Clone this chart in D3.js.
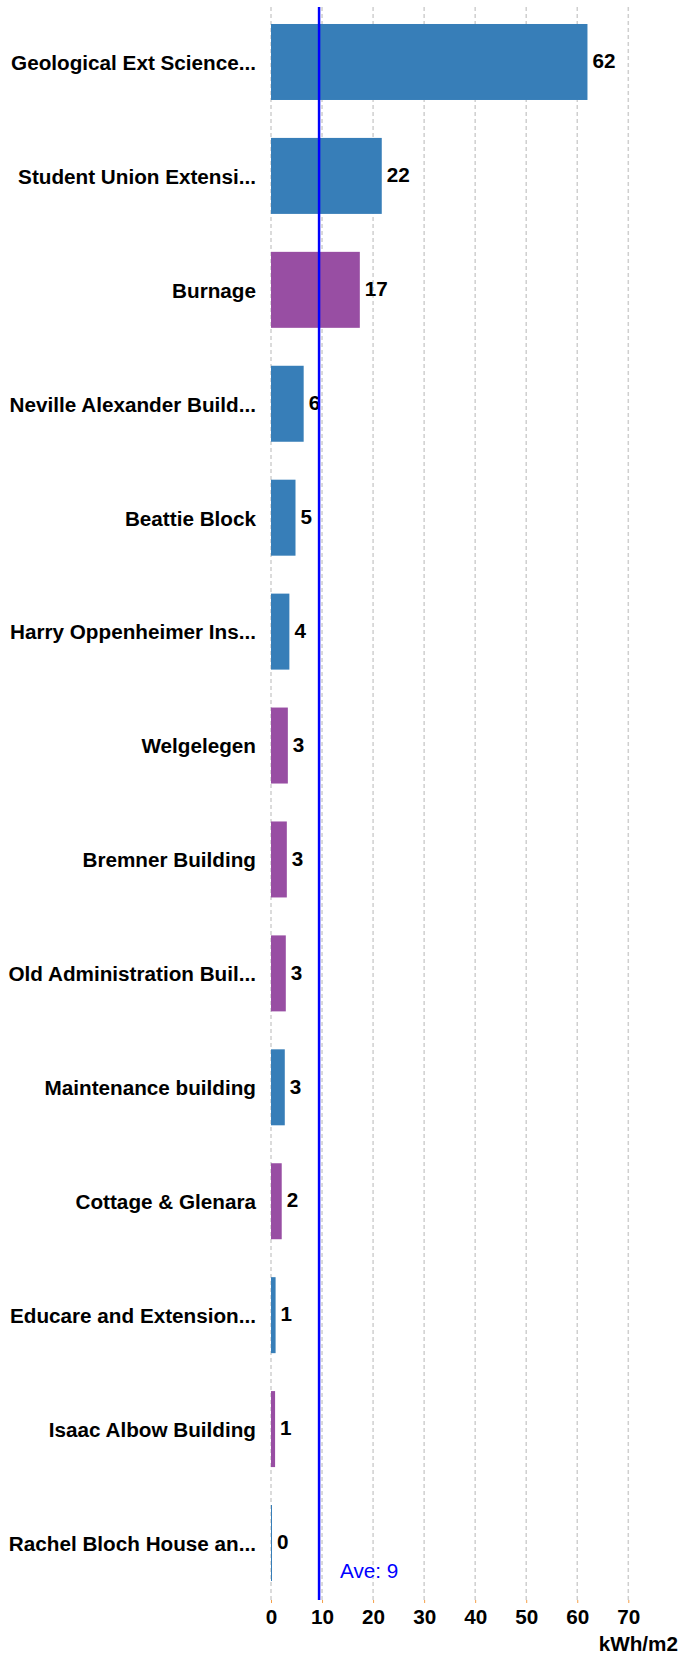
<!DOCTYPE html>
<html>
<head>
<meta charset="utf-8">
<script src="https://cdn.jsdelivr.net/npm/d3@7"></script>
<style>
  body { margin: 0; background: #fff; }
  svg text { font-family: "Liberation Sans", Arial, sans-serif; }
</style>
</head>
<body>
<div id="vis"></div>
<script>
const SVG = d3.select("#vis").append("svg");

// Datos  ------------------------------------------------------------------------------------------
const EDIFICIOS = [
  "Geological Ext Science...", "Student Union Extensi...", "Burnage", "Neville Alexander Build...",
  "Beattie Block", "Harry Oppenheimer Ins...", "Welgelegen", "Bremner Building",
  "Old Administration Buil...", "Maintenance building", "Cottage & Glenara",
  "Educare and Extension...", "Isaac Albow Building", "Rachel Bloch House an..."
];
const VALORES = [62.0, 21.7, 17.4, 6.4, 4.8, 3.6, 3.3, 3.1, 2.9, 2.7, 2.1, 0.9, 0.8, 0.15];
const GRUPOS = ["a", "a", "b", "a", "a", "a", "b", "b", "b", "a", "b", "a", "b", "a"];
const TICKS = [0, 10, 20, 30, 40, 50, 60, 70];
const UNIDAD = "kWh/m2";

const datos = EDIFICIOS.map((d, i) => ({ nombre: d, valor: VALORES[i], grupo: GRUPOS[i] }));
const promedio = d3.mean(VALORES);

// Visualización  ----------------------------------------------------------------------------------
const WIDTH = 680;
const HEIGHT = 1654;
const FONT = "20.7px";
SVG.attr("width", WIDTH).attr("height", HEIGHT);

const x = d3.scaleLinear().domain([0, 70]).range([271, 628.3]);
const y = d3.scaleBand().domain(EDIFICIOS).range([5, 1600]).paddingInner(0.333).paddingOuter(0.1667);
const color = d3.scaleOrdinal().domain(["a", "b"]).range(["#377eb8", "#984ea3"]);

// grilla
SVG.append("g").selectAll("line")
  .data(TICKS)
  .join("line")
  .attr("x1", d => x(d)).attr("x2", d => x(d))
  .attr("y1", 7).attr("y2", 1600)
  .attr("stroke", "#cfcfcf")
  .attr("stroke-width", 1.5)
  .attr("stroke-dasharray", "4,3");

// eje x
const ejeX = SVG.append("g")
  .attr("transform", "translate(0,1600)")
  .call(d3.axisBottom(x).tickValues(TICKS).tickSize(3).tickPadding(6));
ejeX.select(".domain").remove();
ejeX.selectAll(".tick line").attr("stroke", "#f5a04a");
ejeX.selectAll(".tick text")
  .attr("fill", "#000")
  .style("font-size", FONT)
  .style("font-weight", "bold")
  .style("font-family", "Liberation Sans, Arial, sans-serif");

SVG.append("text")
  .attr("x", 678).attr("y", 1651)
  .attr("text-anchor", "end")
  .style("font-size", FONT)
  .style("font-weight", "bold")
  .text(UNIDAD);

// barras
SVG.append("g").selectAll("rect")
  .data(datos)
  .join("rect")
  .attr("x", x(0))
  .attr("y", d => y(d.nombre))
  .attr("width", d => Math.max(1, x(d.valor) - x(0)))
  .attr("height", y.bandwidth())
  .attr("fill", d => color(d.grupo));

// nombres
SVG.append("g").selectAll("text")
  .data(datos)
  .join("text")
  .attr("x", 256)
  .attr("y", d => y(d.nombre) + y.bandwidth() / 2)
  .attr("dy", "0.38em")
  .attr("text-anchor", "end")
  .style("font-size", FONT)
  .style("font-weight", "bold")
  .text(d => d.nombre);

// valores
SVG.append("g").selectAll("text")
  .data(datos)
  .join("text")
  .attr("x", d => Math.max(x(d.valor), x(0) + 1) + 5)
  .attr("y", d => y(d.nombre) + y.bandwidth() / 2)
  .attr("dy", "0.3em")
  .style("font-size", FONT)
  .style("font-weight", "bold")
  .text(d => Math.round(d.valor));

// promedio
SVG.append("line")
  .attr("x1", x(promedio)).attr("x2", x(promedio))
  .attr("y1", 7).attr("y2", 1600)
  .attr("stroke", "#0000ff")
  .attr("stroke-width", 2.5);

SVG.append("text")
  .attr("x", x(promedio) + 21).attr("y", 1578)
  .attr("fill", "#0000ff")
  .style("font-size", FONT)
  .text("Ave: " + Math.round(promedio));
</script>
</body>
</html>
